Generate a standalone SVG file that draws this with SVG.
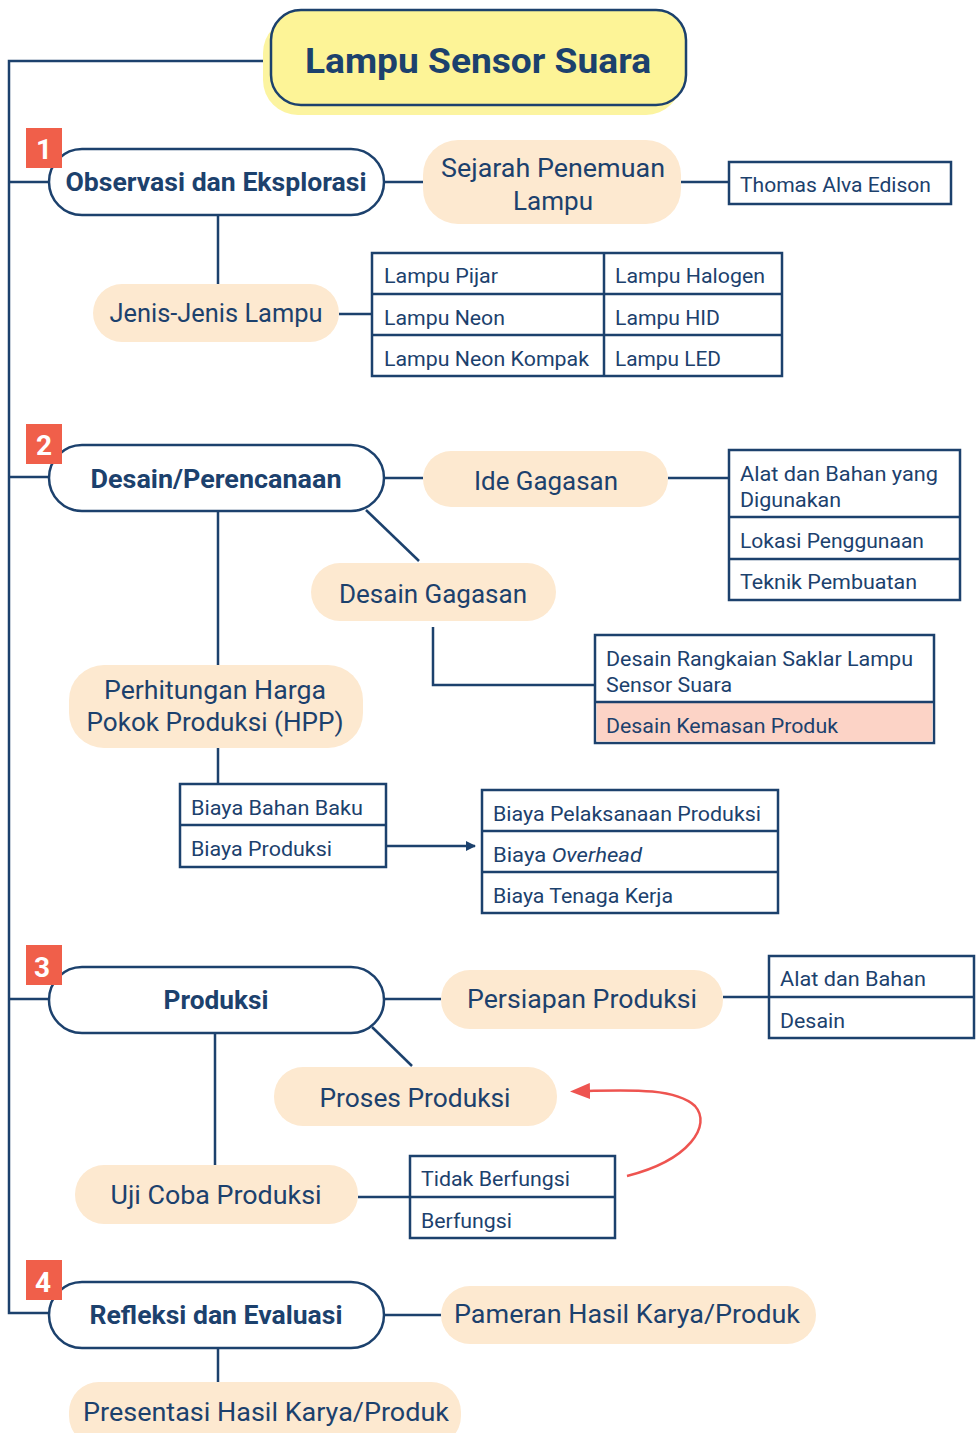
<svg xmlns="http://www.w3.org/2000/svg" width="976" height="1433" viewBox="0 0 976 1433">
<defs>
<style>
text{font-family:Roboto,"Noto Sans",sans-serif;fill:#1c416d}
.main{fill:#fff;stroke:#1c416d;stroke-width:2.5}
.mt{font-size:25px;font-weight:bold;text-anchor:middle}
.pe{fill:#fde9d0}
.pt{font-size:26px;text-anchor:middle}
.bx{fill:#fff;stroke:#1c416d;stroke-width:2.5}
.bt{font-size:20px}
.badge{fill:#f05f4a}
.bn{font-size:28px;font-weight:bold;fill:#fff;text-anchor:middle}
.ln{fill:none;stroke:#1c416d;stroke-width:2.5}
</style>
<marker id="ah" viewBox="0 0 10 10" refX="9" refY="5" markerWidth="10" markerHeight="10" markerUnits="userSpaceOnUse" orient="auto"><path d="M0,0 L10,5 L0,10 z" fill="#1c416d"/></marker>
<marker id="ahr" viewBox="0 0 20 16" refX="2" refY="8" markerWidth="20" markerHeight="16" markerUnits="userSpaceOnUse" orient="auto-start-reverse"><path d="M0,0 L20,8 L0,16 z" fill="#ee5450"/></marker>
</defs>

<g id="connectors">
<path class="ln" d="M263,61 H9 V1313 H49"/>
<path class="ln" d="M9,182 H49 M9,477 H49 M9,999 H49"/>
<path class="ln" d="M384,182 H423 M681,182 H729"/>
<path class="ln" d="M218,215 V284 M339,314 H372"/>
<path class="ln" d="M384,478 H423 M668,478 H729"/>
<path class="ln" d="M366,510 L419,561"/>
<path class="ln" d="M433,627 V685 H595"/>
<path class="ln" d="M218,511 V665 M218,748 V784"/>
<path class="ln" d="M386,846 H475" marker-end="url(#ah)"/>
<path class="ln" d="M384,999 H441 M723,997 H769"/>
<path class="ln" d="M372,1027 L412,1066"/>
<path class="ln" d="M215,1033 V1165 M358,1197 H410"/>
<path class="ln" d="M384,1315 H441 M218,1348 V1382"/>
<path d="M627,1176 C690,1160 712,1125 695,1106 C675,1088 630,1090 588,1091" fill="none" stroke="#ee5450" stroke-width="2.5" marker-end="url(#ahr)"/>
</g>

<g id="title">
<rect x="263" y="18" width="418" height="97" rx="35" fill="#fcf4a0"/>
<rect x="271" y="10" width="415" height="95" rx="30" fill="#fdf497" stroke="#1c416d" stroke-width="2.5"/>
<text x="478" y="73" font-size="35" font-weight="bold" text-anchor="middle" textLength="346" lengthAdjust="spacingAndGlyphs">Lampu Sensor Suara</text>
</g>

<g id="n1">
<rect class="main" x="49" y="149" width="335" height="66" rx="33"/>
<text class="mt" x="216" y="191" textLength="301" lengthAdjust="spacingAndGlyphs">Observasi dan Eksplorasi</text>
<rect class="badge" x="26" y="128" width="36" height="40"/>
<text class="bn" x="44" y="159">1</text>
</g>
<g id="sejarah">
<rect class="pe" x="423" y="140" width="258" height="84" rx="35"/>
<text class="pt" x="553" y="177" textLength="224" lengthAdjust="spacingAndGlyphs">Sejarah Penemuan</text>
<text class="pt" x="553" y="210" textLength="80" lengthAdjust="spacingAndGlyphs">Lampu</text>
</g>
<g id="edison">
<rect class="bx" x="729" y="162" width="222" height="42"/>
<text class="bt" x="740" y="192" textLength="191" lengthAdjust="spacingAndGlyphs">Thomas Alva Edison</text>
</g>
<g id="jenis">
<rect class="pe" x="93" y="284" width="246" height="58" rx="29"/>
<text class="pt" x="216" y="322" textLength="213" lengthAdjust="spacingAndGlyphs">Jenis-Jenis Lampu</text>
</g>
<g id="jenis-table">
<rect class="bx" x="372" y="253" width="410" height="123"/>
<path class="ln" d="M604,253 V376 M372,294 H782 M372,335 H782"/>
<text class="bt" x="384" y="283" textLength="114" lengthAdjust="spacingAndGlyphs">Lampu Pijar</text>
<text class="bt" x="615" y="283" textLength="150" lengthAdjust="spacingAndGlyphs">Lampu Halogen</text>
<text class="bt" x="384" y="325" textLength="121" lengthAdjust="spacingAndGlyphs">Lampu Neon</text>
<text class="bt" x="615" y="325" textLength="105" lengthAdjust="spacingAndGlyphs">Lampu HID</text>
<text class="bt" x="384" y="366" textLength="205" lengthAdjust="spacingAndGlyphs">Lampu Neon Kompak</text>
<text class="bt" x="615" y="366" textLength="106" lengthAdjust="spacingAndGlyphs">Lampu LED</text>
</g>

<g id="n2">
<rect class="main" x="49" y="445" width="335" height="66" rx="33"/>
<text class="mt" x="216" y="488" textLength="251" lengthAdjust="spacingAndGlyphs">Desain/Perencanaan</text>
<rect class="badge" x="26" y="424" width="36" height="40"/>
<text class="bn" x="44" y="455">2</text>
</g>
<g id="ide">
<rect class="pe" x="423" y="451" width="245" height="56" rx="28"/>
<text class="pt" x="546" y="490" textLength="144" lengthAdjust="spacingAndGlyphs">Ide Gagasan</text>
</g>
<g id="ide-table">
<rect class="bx" x="729" y="450" width="231" height="150"/>
<path class="ln" d="M729,517 H960 M729,559 H960"/>
<text class="bt" x="740" y="481" textLength="198" lengthAdjust="spacingAndGlyphs">Alat dan Bahan yang</text>
<text class="bt" x="740" y="507" textLength="101" lengthAdjust="spacingAndGlyphs">Digunakan</text>
<text class="bt" x="740" y="548" textLength="184" lengthAdjust="spacingAndGlyphs">Lokasi Penggunaan</text>
<text class="bt" x="740" y="589" textLength="177" lengthAdjust="spacingAndGlyphs">Teknik Pembuatan</text>
</g>
<g id="desain-gagasan">
<rect class="pe" x="311" y="563" width="245" height="58" rx="29"/>
<text class="pt" x="433" y="603" textLength="188" lengthAdjust="spacingAndGlyphs">Desain Gagasan</text>
</g>
<g id="desain-table">
<rect class="bx" x="595" y="635" width="339" height="108"/>
<rect x="596.5" y="702" width="336" height="39.5" fill="#fcd3c6"/>
<path class="ln" d="M595,702 H934"/>
<text class="bt" x="606" y="666" textLength="307" lengthAdjust="spacingAndGlyphs">Desain Rangkaian Saklar Lampu</text>
<text class="bt" x="606" y="692" textLength="126" lengthAdjust="spacingAndGlyphs">Sensor Suara</text>
<text class="bt" x="606" y="733" textLength="232" lengthAdjust="spacingAndGlyphs">Desain Kemasan Produk</text>
</g>
<g id="hpp">
<rect class="pe" x="69" y="665" width="294" height="83" rx="35"/>
<text class="pt" x="215" y="699" textLength="222" lengthAdjust="spacingAndGlyphs">Perhitungan Harga</text>
<text class="pt" x="215" y="731" textLength="257" lengthAdjust="spacingAndGlyphs">Pokok Produksi (HPP)</text>
</g>
<g id="biaya1">
<rect class="bx" x="180" y="784" width="206" height="83"/>
<path class="ln" d="M180,825 H386"/>
<text class="bt" x="191" y="815" textLength="172" lengthAdjust="spacingAndGlyphs">Biaya Bahan Baku</text>
<text class="bt" x="191" y="856" textLength="141" lengthAdjust="spacingAndGlyphs">Biaya Produksi</text>
</g>
<g id="biaya2">
<rect class="bx" x="482" y="790" width="296" height="123"/>
<path class="ln" d="M482,831 H778 M482,872 H778"/>
<text class="bt" x="493" y="821" textLength="268" lengthAdjust="spacingAndGlyphs">Biaya Pelaksanaan Produksi</text>
<text class="bt" x="493" y="862" textLength="149" lengthAdjust="spacingAndGlyphs">Biaya <tspan font-style="italic">Overhead</tspan></text>
<text class="bt" x="493" y="903" textLength="180" lengthAdjust="spacingAndGlyphs">Biaya Tenaga Kerja</text>
</g>

<g id="n3">
<rect class="main" x="49" y="967" width="335" height="66" rx="33"/>
<text class="mt" x="216" y="1009" textLength="105" lengthAdjust="spacingAndGlyphs">Produksi</text>
<rect class="badge" x="26" y="945" width="36" height="40"/>
<text class="bn" x="42" y="977">3</text>
</g>
<g id="persiapan">
<rect class="pe" x="441" y="970" width="282" height="59" rx="29"/>
<text class="pt" x="582" y="1008" textLength="230" lengthAdjust="spacingAndGlyphs">Persiapan Produksi</text>
</g>
<g id="persiapan-table">
<rect class="bx" x="769" y="956" width="205" height="82"/>
<path class="ln" d="M769,997 H974"/>
<text class="bt" x="780" y="986" textLength="146" lengthAdjust="spacingAndGlyphs">Alat dan Bahan</text>
<text class="bt" x="780" y="1028" textLength="65" lengthAdjust="spacingAndGlyphs">Desain</text>
</g>
<g id="proses">
<rect class="pe" x="274" y="1067" width="283" height="59" rx="29"/>
<text class="pt" x="415" y="1107" textLength="191" lengthAdjust="spacingAndGlyphs">Proses Produksi</text>
</g>
<g id="uji">
<rect class="pe" x="75" y="1165" width="283" height="59" rx="29"/>
<text class="pt" x="216" y="1204" textLength="211" lengthAdjust="spacingAndGlyphs">Uji Coba Produksi</text>
</g>
<g id="uji-table">
<rect class="bx" x="410" y="1156" width="205" height="82"/>
<path class="ln" d="M410,1197 H615"/>
<text class="bt" x="421" y="1186" textLength="149" lengthAdjust="spacingAndGlyphs">Tidak Berfungsi</text>
<text class="bt" x="421" y="1228" textLength="91" lengthAdjust="spacingAndGlyphs">Berfungsi</text>
</g>

<g id="n4">
<rect class="main" x="49" y="1282" width="335" height="66" rx="33"/>
<text class="mt" x="216" y="1324" textLength="253" lengthAdjust="spacingAndGlyphs">Refleksi dan Evaluasi</text>
<rect class="badge" x="26" y="1260" width="36" height="40"/>
<text class="bn" x="43" y="1292">4</text>
</g>
<g id="pameran">
<rect class="pe" x="441" y="1286" width="375" height="58" rx="29"/>
<text class="pt" x="627" y="1323" textLength="346" lengthAdjust="spacingAndGlyphs">Pameran Hasil Karya/Produk</text>
</g>
<g id="presentasi">
<rect class="pe" x="69" y="1382" width="392" height="64" rx="30"/>
<text class="pt" x="266" y="1421" textLength="366" lengthAdjust="spacingAndGlyphs">Presentasi Hasil Karya/Produk</text>
</g>
</svg>
